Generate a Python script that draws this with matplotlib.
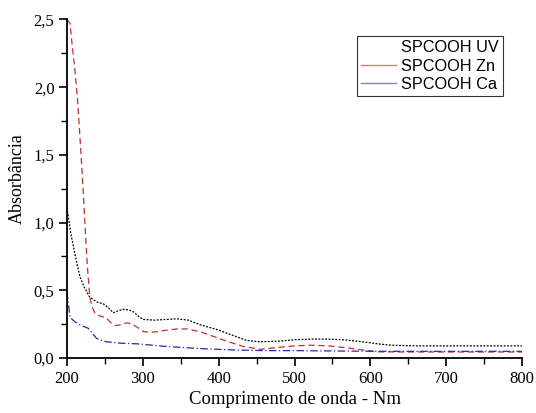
"""Espectro UV-Vis SPCOOH: recriação com matplotlib"""

import matplotlib

matplotlib.use("Agg")
import matplotlib.pyplot as plt
from matplotlib.lines import Line2D
from matplotlib.ticker import FixedLocator, MultipleLocator

# region data
uv_nm = [200, 205, 210, 217, 223, 230, 239, 248, 255, 261, 268, 274, 282, 288, 295, 301, 315,
         330, 345, 360, 376, 398, 420, 437, 455, 480, 500, 520, 543, 565, 590, 610, 627, 660,
         700, 750, 800]
uv_abs = [1.11, 0.92, 0.78, 0.60, 0.52, 0.45, 0.415, 0.40, 0.37, 0.335, 0.35, 0.36, 0.355, 0.34,
          0.305, 0.285, 0.28, 0.285, 0.29, 0.28, 0.245, 0.21, 0.165, 0.13, 0.12, 0.125, 0.135,
          0.14, 0.14, 0.135, 0.12, 0.105, 0.095, 0.09, 0.09, 0.09, 0.09]

zn_nm = [200, 204, 207, 210, 214, 218, 222, 225, 227, 230, 233, 237, 244, 252, 258, 263, 270,
         279, 286, 292, 301, 310, 319, 330, 345, 358, 375, 393, 413, 433, 455, 480, 500, 521,
         545, 570, 590, 609, 650, 700, 750, 800]
zn_abs = [2.5, 2.47, 2.3, 2.15, 1.90, 1.55, 1.17, 0.85, 0.67, 0.45, 0.38, 0.33, 0.31, 0.295,
          0.26, 0.24, 0.245, 0.26, 0.25, 0.23, 0.195, 0.19, 0.195, 0.205, 0.215, 0.215, 0.195,
          0.16, 0.12, 0.085, 0.065, 0.08, 0.09, 0.095, 0.09, 0.075, 0.06, 0.046, 0.045, 0.045,
          0.045, 0.045]

ca_nm = [200, 204, 210, 217, 228, 234, 239, 246, 252, 270, 293, 332, 376, 420, 460, 500, 560,
         620, 700, 800]
ca_abs = [0.49, 0.30, 0.27, 0.245, 0.22, 0.18, 0.145, 0.13, 0.12, 0.11, 0.105, 0.085, 0.07,
          0.06, 0.055, 0.055, 0.052, 0.05, 0.05, 0.05]

x_ticks = [200, 300, 400, 500, 600, 700, 800]
y_ticks = [0.0, 0.5, 1.0, 1.5, 2.0, 2.5]
y_tick_labels = ["0,0", "0,5", "1,0", "1,5", "2,0", "2,5"]
labels = ["SPCOOH UV", "SPCOOH Zn", "SPCOOH Ca"]
# endregion

serif = "Liberation Serif"

fig = plt.figure(figsize=(5.36, 4.13), dpi=100)
ax = fig.add_axes([0.125, 0.133, 0.849, 0.820])

ax.plot(uv_nm, uv_abs, color="black", linewidth=0.9, linestyle=(0, (1.5, 1.2)))
ax.plot(zn_nm, zn_abs, color="#c03030", linewidth=0.9, linestyle=(0, (5, 3)))
ax.plot(ca_nm, ca_abs, color="#2828a8", linewidth=0.9, linestyle=(0, (6, 2, 1, 2)))

ax.set_xlim(200, 800)
ax.set_ylim(0, 2.5)
ax.xaxis.set_major_locator(FixedLocator(x_ticks))
ax.xaxis.set_minor_locator(MultipleLocator(50))
ax.yaxis.set_major_locator(FixedLocator(y_ticks))
ax.yaxis.set_minor_locator(MultipleLocator(0.25))
ax.set_yticklabels(y_tick_labels)

for side in ("top", "right"):
    ax.spines[side].set_visible(False)
for side in ("left", "bottom"):
    ax.spines[side].set_linewidth(1.3)

ax.tick_params(which="major", direction="out", length=6, width=1.2, labelsize=12)
ax.tick_params(which="minor", direction="out", length=4, width=1.0)
ax.tick_params(axis="y", pad=3)
for lab in ax.get_xticklabels() + ax.get_yticklabels():
    lab.set_fontfamily(serif)

ax.set_xlabel("Comprimento de onda - Nm", fontfamily=serif, fontsize=13.5, labelpad=3)
ax.set_ylabel("Absorbância", fontfamily=serif, fontsize=13)
ax.yaxis.set_label_coords(-0.09, 0.53)

handles = [
    Line2D([], [], color="white", linewidth=1.0),
    Line2D([], [], color="#d08080", linewidth=1.0),
    Line2D([], [], color="#8080c8", linewidth=1.0),
]
leg = ax.legend(
    handles,
    labels,
    loc="upper right",
    bbox_to_anchor=(0.958, 0.95),
    frameon=True,
    fancybox=False,
    edgecolor="black",
    prop={"family": "Liberation Sans", "size": 11.7},
    handlelength=2.15,
    handletextpad=0.3,
    labelspacing=0.2,
    borderpad=0.25,
    borderaxespad=0,
)
leg.get_frame().set_linewidth(0.8)

fig.savefig("out.png", dpi=100)
